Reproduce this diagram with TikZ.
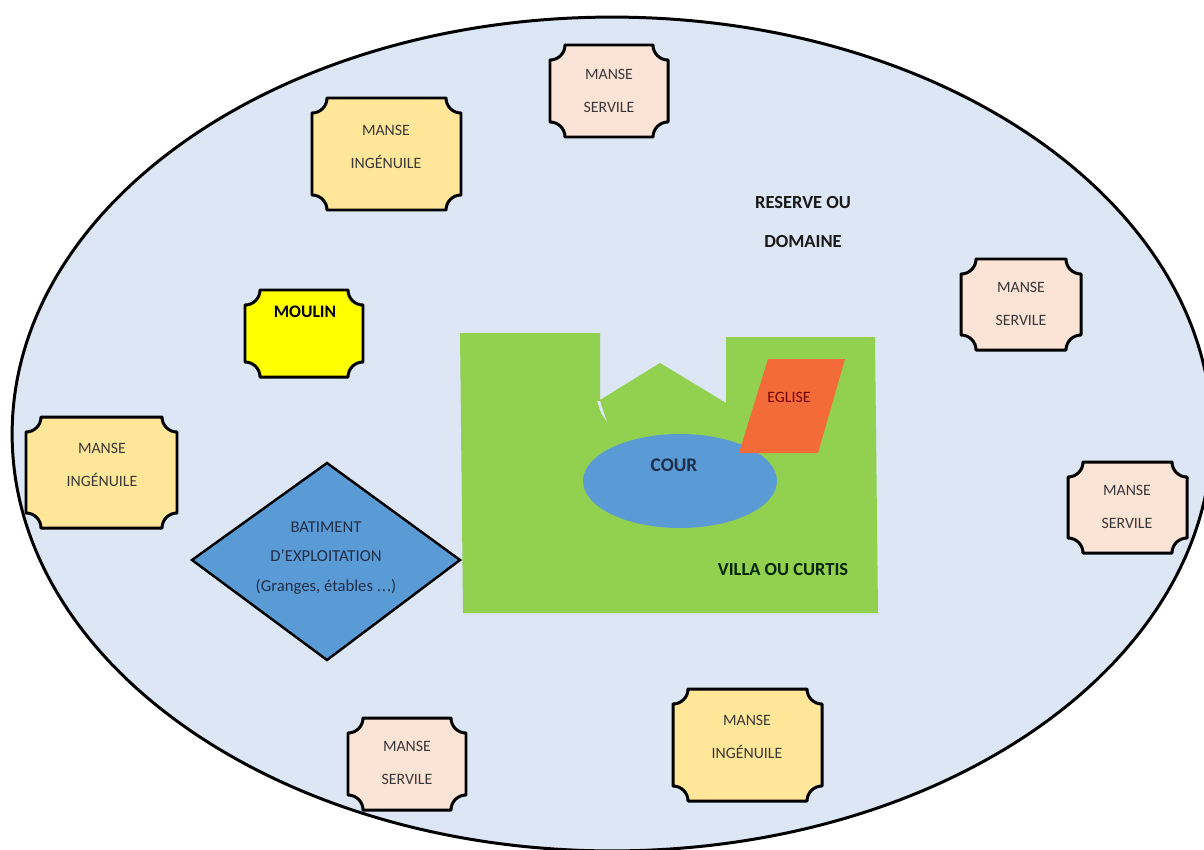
\documentclass[tikz,border=0pt]{standalone}
\usepackage{fontspec}
\setmainfont{Carlito}
\usepackage{tikz}
\usetikzlibrary{calc,positioning}

\definecolor{domainebg}{HTML}{DCE6F4}
\definecolor{villagreen}{HTML}{92D050}
\definecolor{courblue}{HTML}{5B9BD5}
\definecolor{egliseorange}{HTML}{F26B38}
\definecolor{ingenuile}{HTML}{FFE699}
\definecolor{servile}{HTML}{FBE3D6}
\definecolor{moulinyellow}{HTML}{FFFF00}
\definecolor{navytext}{HTML}{1F2E4A}

% plaque with concave corners: fill, x1, y1, x2, y2
\newcommand{\pr}{15}
\newcommand{\pk}{8.3}
\newcommand{\plaque}[5]{%
  \filldraw[plaquebox, fill=#1] (#2,#3+\pr) .. controls (#2+\pk,#3+\pr) and (#2+\pr,#3+\pk) .. (#2+\pr,#3)
    -- (#4-\pr,#3) .. controls (#4-\pr,#3+\pk) and (#4-\pk,#3+\pr) .. (#4,#3+\pr)
    -- (#4,#5-\pr) .. controls (#4-\pk,#5-\pr) and (#4-\pr,#5-\pk) .. (#4-\pr,#5)
    -- (#2+\pr,#5) .. controls (#2+\pr,#5-\pk) and (#2+\pk,#5-\pr) .. (#2,#5-\pr) -- cycle;}

\tikzset{
  plaquebox/.style={draw=black, line width=1.7pt, line join=round},
  lbl/.style={font=\fontsize{9}{18.5}\selectfont, text=black!78, align=center, inner sep=0pt},
  boldlbl/.style={font=\fontsize{10.5}{22}\selectfont\bfseries, text=black!90, align=center, inner sep=0pt}
}

\begin{document}
\begin{tikzpicture}[x=0.02cm, y=-0.02cm]
  \useasboundingbox (0,0) rectangle (1204,849);
  \fill[white] (0,0) rectangle (1204,849);

  % domaine
  \filldraw[fill=domainebg, draw=black, line width=1.7pt] (612,434) ellipse [x radius=12cm, y radius=8.34cm];
  \node[boldlbl] (reserve) at (803,222) {RESERVE OU\\DOMAINE};

  % villa
  \fill[villagreen] (460,333) -- (600,333) -- (600,400) -- (660,363) -- (726,403) -- (726,337)
    -- (875,337) -- (878,613) -- (463,613) -- cycle;
  \fill[domainebg] (597,401) -- (600,401) -- (607,422) -- (601,413) -- cycle;
  \fill[courblue] (680,481) ellipse [x radius=1.94cm, y radius=0.94cm];
  \fill[egliseorange] (768,359) -- (845,359) -- (818,453) -- (739,453) -- cycle;
  \node[lbl, text=red!45!black] (eglise) at (789,397) {EGLISE};
  \node[boldlbl, font=\fontsize{11}{13}\selectfont\bfseries, text=navytext] (cour) at (674,465) {COUR};
  \node[boldlbl, text=black!85!green] (villa) at (783,570) {VILLA OU CURTIS};

  % batiment
  \filldraw[fill=courblue, draw=black, line width=1.4pt, line join=miter] (327,463) -- (460,560) -- (327,660) -- (192,560) -- cycle;
  \node[lbl, font=\fontsize{9.5}{17}\selectfont, text=navytext] (batiment) at (326,558) {BATIMENT\\D’EXPLOITATION\\(Granges, étables .\kern0.5pt.\kern0.5pt.)};

  % moulin
  \plaque{moulinyellow}{245}{290}{363}{377}
  \node[boldlbl, font=\fontsize{10}{12}\selectfont\bfseries, text=black] (moulin) at (305,312) {MOULIN};

  % manses
  \plaque{servile}{550}{45}{668}{137}
  \node[lbl] (servileA) at (609,91) {MANSE\\SERVILE};
  \plaque{servile}{961}{259}{1081}{350}
  \node[lbl] (servileB) at (1021,304) {MANSE\\SERVILE};
  \plaque{servile}{1068}{462}{1187}{553}
  \node[lbl] (servileC) at (1127,507) {MANSE\\SERVILE};
  \plaque{servile}{348}{718}{466}{810}
  \node[lbl] (servileD) at (407,763) {MANSE\\SERVILE};

  \plaque{ingenuile}{312}{98}{461}{210}
  \node[lbl] (ingenuileA) at (386,147) {MANSE\\INGÉNUILE};
  \plaque{ingenuile}{26}{417}{177}{528}
  \node[lbl] (ingenuileB) at (102,465) {MANSE\\INGÉNUILE};
  \plaque{ingenuile}{673}{689}{822}{801}
  \node[lbl] (ingenuileC) at (747,737) {MANSE\\INGÉNUILE};
\end{tikzpicture}
\end{document}
